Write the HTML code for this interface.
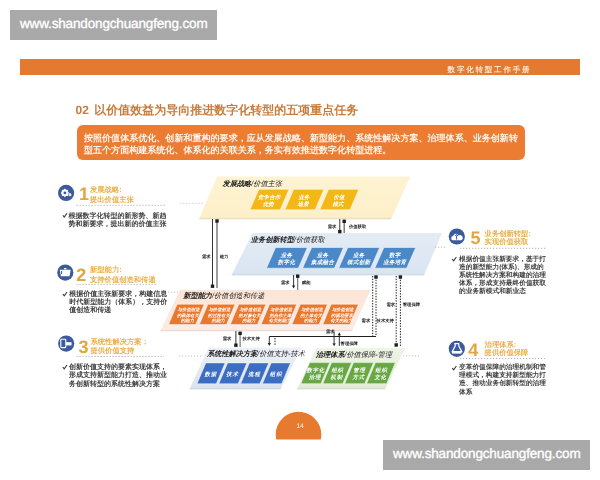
<!DOCTYPE html>
<html><head><meta charset="utf-8">
<style>
html,body{margin:0;padding:0;background:#fff;}
body{width:600px;height:480px;overflow:hidden;position:relative;font-family:"Liberation Sans",sans-serif;text-rendering:geometricPrecision;}
.a{position:absolute;white-space:nowrap;}
.wm{position:absolute;background:#a9a9a9;color:#fff;font-size:13.5px;letter-spacing:-0.15px;line-height:30px;height:30px;width:207px;}
.wm span{position:absolute;left:10px;top:-1.5px;-webkit-text-stroke:0.35px #fff;}
svg{position:absolute;left:0;top:0;}
</style></head>
<body>
<!-- top watermark -->
<div class="wm" style="left:10px;top:10px;"><span>www.shandongchuangfeng.com</span></div>

<div id="doc" style="position:absolute;left:0;top:0;width:600px;height:480px;filter:blur(0.3px);">
<!-- header bar -->
<div class="a" style="left:20px;top:59px;width:560px;height:16px;background:#e47a2f;"></div>
<div class="a" style="left:447.6px;top:62px;height:16px;line-height:16px;font-size:7.5px;font-weight:bold;color:#fbe6d6;letter-spacing:1.8px;">数字化转型工作手册</div>

<!-- title -->
<div class="a" style="left:75.5px;top:102px;font-size:12px;font-weight:bold;color:#c87b3b;line-height:16px;">02 <span style="margin-left:2px">以价值效益为导向推进数字化转型的五项重点任务</span></div>

<!-- orange intro box -->
<div class="a" style="left:77px;top:125px;width:448px;height:35px;background:#ec7c32;border-radius:6px;"></div>
<div class="a" style="left:84px;top:132.8px;font-size:9px;font-weight:bold;color:#fff4ea;line-height:11.8px;letter-spacing:0.04px;">按照价值体系优化、创新和重构的要求，应从发展战略、新型能力、系统性解决方案、治理体系、业务创新转<br>型五个方面构建系统化、体系化的关联关系，务实有效推进数字化转型进程。</div>

<svg width="600" height="480" viewBox="0 0 600 480" font-family="Liberation Sans, sans-serif" text-rendering="geometricPrecision">
<defs><linearGradient id="gy" x1="0" y1="0" x2="0" y2="1"><stop offset="0" stop-color="#fef3d2"/><stop offset="1" stop-color="#fdefc8"/></linearGradient><linearGradient id="gb" x1="0" y1="0" x2="0" y2="1"><stop offset="0" stop-color="#e4ebf4"/><stop offset="1" stop-color="#dae5f2"/></linearGradient><linearGradient id="go" x1="0" y1="0" x2="0" y2="1"><stop offset="0" stop-color="#fce4d5"/><stop offset="1" stop-color="#fdede6"/></linearGradient><linearGradient id="gs" x1="0" y1="0" x2="0" y2="1"><stop offset="0" stop-color="#edf0f6"/><stop offset="1" stop-color="#dce3ef"/></linearGradient><linearGradient id="gg" x1="0" y1="0" x2="0" y2="1"><stop offset="0" stop-color="#eef4e6"/><stop offset="1" stop-color="#e0ecd4"/></linearGradient></defs>
<polygon points="217.0,176.5 410.5,176.5 391.0,219.3 199.0,219.3" fill="url(#gy)" />
<polygon points="199.7,217.7 391.7,217.7 391.0,219.3 199.0,219.3" fill="#ece0c4" />
<polygon points="252.5,233.0 442.0,233.0 424.0,275.3 231.5,275.3" fill="url(#gb)" />
<polygon points="232.3,273.7 424.7,273.7 424.0,275.3 231.5,275.3" fill="#d2d9e4" />
<polygon points="180.0,290.0 370.5,290.0 352.0,331.3 160.0,331.3" fill="url(#go)" />
<polygon points="160.8,329.7 352.7,329.7 352.0,331.3 160.0,331.3" fill="#eadbd6" />
<polygon points="208.5,347.4 301.5,347.4 280.5,389.3 189.5,389.3" fill="url(#gs)" />
<polygon points="190.2,387.7 281.3,387.7 280.5,389.3 189.5,389.3" fill="#d3d9e4" />
<polygon points="316.0,348.0 405.5,348.0 385.0,389.3 297.0,389.3" fill="url(#gg)" />
<polygon points="297.7,387.7 385.8,387.7 385.0,389.3 297.0,389.3" fill="#d5dfca" />
<polygon points="258.8,189.3 289.0,189.3 280.2,209.8 250.0,209.8" fill="#f3b717" stroke="#ffffff" stroke-opacity="0.55" stroke-width="0.9"/>
<text x="269.2" y="197.9" font-size="5.4" fill="#fff" font-weight="bold" text-anchor="middle" dominant-baseline="central" font-style="italic" letter-spacing="0.2">竞争合作</text>
<text x="268.3" y="205.0" font-size="5.4" fill="#fff" font-weight="bold" text-anchor="middle" dominant-baseline="central" font-style="italic" letter-spacing="0.2">优势</text>
<polygon points="293.7,189.3 323.9,189.3 315.1,209.8 284.9,209.8" fill="#f3b717" stroke="#ffffff" stroke-opacity="0.55" stroke-width="0.9"/>
<text x="304.1" y="197.9" font-size="5.4" fill="#fff" font-weight="bold" text-anchor="middle" dominant-baseline="central" font-style="italic" letter-spacing="0.2">业务</text>
<text x="303.2" y="205.0" font-size="5.4" fill="#fff" font-weight="bold" text-anchor="middle" dominant-baseline="central" font-style="italic" letter-spacing="0.2">场景</text>
<polygon points="328.6,189.3 358.8,189.3 350.0,209.8 319.8,209.8" fill="#f3b717" stroke="#ffffff" stroke-opacity="0.55" stroke-width="0.9"/>
<text x="339.0" y="197.9" font-size="5.4" fill="#fff" font-weight="bold" text-anchor="middle" dominant-baseline="central" font-style="italic" letter-spacing="0.2">价值</text>
<text x="338.1" y="205.0" font-size="5.4" fill="#fff" font-weight="bold" text-anchor="middle" dominant-baseline="central" font-style="italic" letter-spacing="0.2">模式</text>
<polygon points="275.6,247.5 307.4,247.5 298.3,268.2 266.5,268.2" fill="#4b88c8" stroke="#ffffff" stroke-opacity="0.55" stroke-width="0.9"/>
<text x="286.5" y="255.7" font-size="5.5" fill="#fff" font-weight="bold" text-anchor="middle" dominant-baseline="central" font-style="italic" letter-spacing="0.3">业务</text>
<text x="286.5" y="262.8" font-size="5.5" fill="#fff" font-weight="bold" text-anchor="middle" dominant-baseline="central" font-style="italic" letter-spacing="0.3">数字化</text>
<polygon points="311.7,247.5 343.5,247.5 334.4,268.2 302.6,268.2" fill="#4b88c8" stroke="#ffffff" stroke-opacity="0.55" stroke-width="0.9"/>
<text x="322.6" y="255.7" font-size="5.5" fill="#fff" font-weight="bold" text-anchor="middle" dominant-baseline="central" font-style="italic" letter-spacing="0.3">业务</text>
<text x="322.6" y="262.8" font-size="5.5" fill="#fff" font-weight="bold" text-anchor="middle" dominant-baseline="central" font-style="italic" letter-spacing="0.3">集成融合</text>
<polygon points="347.8,247.5 379.6,247.5 370.5,268.2 338.7,268.2" fill="#4b88c8" stroke="#ffffff" stroke-opacity="0.55" stroke-width="0.9"/>
<text x="358.7" y="255.7" font-size="5.5" fill="#fff" font-weight="bold" text-anchor="middle" dominant-baseline="central" font-style="italic" letter-spacing="0.3">业务</text>
<text x="358.7" y="262.8" font-size="5.5" fill="#fff" font-weight="bold" text-anchor="middle" dominant-baseline="central" font-style="italic" letter-spacing="0.3">模式创新</text>
<polygon points="383.9,247.5 415.7,247.5 406.6,268.2 374.8,268.2" fill="#4b88c8" stroke="#ffffff" stroke-opacity="0.55" stroke-width="0.9"/>
<text x="394.8" y="255.7" font-size="5.5" fill="#fff" font-weight="bold" text-anchor="middle" dominant-baseline="central" font-style="italic" letter-spacing="0.3">数字</text>
<text x="394.8" y="262.8" font-size="5.5" fill="#fff" font-weight="bold" text-anchor="middle" dominant-baseline="central" font-style="italic" letter-spacing="0.3">业务培育</text>
<polygon points="177.1,304.2 204.2,304.2 195.7,324.5 168.6,324.5" fill="#e8782e" stroke="#ffffff" stroke-opacity="0.55" stroke-width="0.9"/>
<text x="188.6" y="309.8" font-size="4.4" fill="#fff" font-weight="bold" text-anchor="middle" dominant-baseline="central" font-style="italic" >与价值创造</text>
<text x="187.9" y="315.0" font-size="4.4" fill="#fff" font-weight="bold" text-anchor="middle" dominant-baseline="central" font-style="italic" >的载体有关</text>
<text x="187.3" y="320.2" font-size="4.4" fill="#fff" font-weight="bold" text-anchor="middle" dominant-baseline="central" font-style="italic" >的能力</text>
<polygon points="207.9,304.2 235.0,304.2 226.5,324.5 199.4,324.5" fill="#e8782e" stroke="#ffffff" stroke-opacity="0.55" stroke-width="0.9"/>
<text x="219.4" y="309.8" font-size="4.4" fill="#fff" font-weight="bold" text-anchor="middle" dominant-baseline="central" font-style="italic" >与价值创造</text>
<text x="218.8" y="315.0" font-size="4.4" fill="#fff" font-weight="bold" text-anchor="middle" dominant-baseline="central" font-style="italic" >的过程有关</text>
<text x="218.1" y="320.2" font-size="4.4" fill="#fff" font-weight="bold" text-anchor="middle" dominant-baseline="central" font-style="italic" >的能力</text>
<polygon points="238.8,304.2 265.9,304.2 257.4,324.5 230.3,324.5" fill="#e8782e" stroke="#ffffff" stroke-opacity="0.55" stroke-width="0.9"/>
<text x="250.2" y="309.8" font-size="4.4" fill="#fff" font-weight="bold" text-anchor="middle" dominant-baseline="central" font-style="italic" >与价值创造</text>
<text x="249.6" y="315.0" font-size="4.4" fill="#fff" font-weight="bold" text-anchor="middle" dominant-baseline="central" font-style="italic" >的对象有关</text>
<text x="248.9" y="320.2" font-size="4.4" fill="#fff" font-weight="bold" text-anchor="middle" dominant-baseline="central" font-style="italic" >的能力</text>
<polygon points="269.6,304.2 296.7,304.2 288.2,324.5 261.1,324.5" fill="#e8782e" stroke="#ffffff" stroke-opacity="0.55" stroke-width="0.9"/>
<text x="281.1" y="309.8" font-size="4.4" fill="#fff" font-weight="bold" text-anchor="middle" dominant-baseline="central" font-style="italic" >与价值创造</text>
<text x="280.4" y="315.0" font-size="4.4" fill="#fff" font-weight="bold" text-anchor="middle" dominant-baseline="central" font-style="italic" >的合作主体</text>
<text x="279.8" y="320.2" font-size="4.4" fill="#fff" font-weight="bold" text-anchor="middle" dominant-baseline="central" font-style="italic" >有关的能力</text>
<polygon points="300.4,304.2 327.5,304.2 319.0,324.5 291.9,324.5" fill="#e8782e" stroke="#ffffff" stroke-opacity="0.55" stroke-width="0.9"/>
<text x="311.9" y="309.8" font-size="4.4" fill="#fff" font-weight="bold" text-anchor="middle" dominant-baseline="central" font-style="italic" >与价值创造</text>
<text x="311.2" y="315.0" font-size="4.4" fill="#fff" font-weight="bold" text-anchor="middle" dominant-baseline="central" font-style="italic" >的主体有关</text>
<text x="310.6" y="320.2" font-size="4.4" fill="#fff" font-weight="bold" text-anchor="middle" dominant-baseline="central" font-style="italic" >的能力</text>
<polygon points="331.2,304.2 358.4,304.2 349.9,324.5 322.8,324.5" fill="#e8782e" stroke="#ffffff" stroke-opacity="0.55" stroke-width="0.9"/>
<text x="342.7" y="309.8" font-size="4.4" fill="#fff" font-weight="bold" text-anchor="middle" dominant-baseline="central" font-style="italic" >与价值创造</text>
<text x="342.1" y="315.0" font-size="4.4" fill="#fff" font-weight="bold" text-anchor="middle" dominant-baseline="central" font-style="italic" >的驱动要素</text>
<text x="341.4" y="320.2" font-size="4.4" fill="#fff" font-weight="bold" text-anchor="middle" dominant-baseline="central" font-style="italic" >有关的能力</text>
<polygon points="205.8,362.9 225.1,362.9 216.3,383.8 197.0,383.8" fill="#3b6dc2" stroke="#ffffff" stroke-opacity="0.55" stroke-width="0.9"/>
<text x="210.8" y="375.1" font-size="5.4" fill="#fff" font-weight="bold" text-anchor="middle" dominant-baseline="central" font-style="italic" letter-spacing="1.0">数据</text>
<polygon points="227.6,362.9 246.9,362.9 238.1,383.8 218.8,383.8" fill="#3b6dc2" stroke="#ffffff" stroke-opacity="0.55" stroke-width="0.9"/>
<text x="232.6" y="375.1" font-size="5.4" fill="#fff" font-weight="bold" text-anchor="middle" dominant-baseline="central" font-style="italic" letter-spacing="1.0">技术</text>
<polygon points="249.4,362.9 268.7,362.9 259.9,383.8 240.6,383.8" fill="#3b6dc2" stroke="#ffffff" stroke-opacity="0.55" stroke-width="0.9"/>
<text x="254.4" y="375.1" font-size="5.4" fill="#fff" font-weight="bold" text-anchor="middle" dominant-baseline="central" font-style="italic" letter-spacing="1.0">流程</text>
<polygon points="271.2,362.9 290.5,362.9 281.7,383.8 262.4,383.8" fill="#3b6dc2" stroke="#ffffff" stroke-opacity="0.55" stroke-width="0.9"/>
<text x="276.2" y="375.1" font-size="5.4" fill="#fff" font-weight="bold" text-anchor="middle" dominant-baseline="central" font-style="italic" letter-spacing="1.0">组织</text>
<polygon points="309.7,362.6 329.7,362.6 320.9,383.7 300.9,383.7" fill="#68a844" stroke="#ffffff" stroke-opacity="0.55" stroke-width="0.9"/>
<text x="315.7" y="370.8" font-size="5.4" fill="#fff" font-weight="bold" text-anchor="middle" dominant-baseline="central" font-style="italic" letter-spacing="0.8">数字化</text>
<text x="314.9" y="377.5" font-size="5.4" fill="#fff" font-weight="bold" text-anchor="middle" dominant-baseline="central" font-style="italic" letter-spacing="0.8">治理</text>
<polygon points="331.6,362.6 351.6,362.6 342.8,383.7 322.8,383.7" fill="#68a844" stroke="#ffffff" stroke-opacity="0.55" stroke-width="0.9"/>
<text x="337.6" y="370.8" font-size="5.4" fill="#fff" font-weight="bold" text-anchor="middle" dominant-baseline="central" font-style="italic" letter-spacing="0.8">组织</text>
<text x="336.8" y="377.5" font-size="5.4" fill="#fff" font-weight="bold" text-anchor="middle" dominant-baseline="central" font-style="italic" letter-spacing="0.8">机制</text>
<polygon points="353.5,362.6 373.5,362.6 364.7,383.7 344.7,383.7" fill="#68a844" stroke="#ffffff" stroke-opacity="0.55" stroke-width="0.9"/>
<text x="359.5" y="370.8" font-size="5.4" fill="#fff" font-weight="bold" text-anchor="middle" dominant-baseline="central" font-style="italic" letter-spacing="0.8">管理</text>
<text x="358.7" y="377.5" font-size="5.4" fill="#fff" font-weight="bold" text-anchor="middle" dominant-baseline="central" font-style="italic" letter-spacing="0.8">方式</text>
<polygon points="375.4,362.6 395.4,362.6 386.6,383.7 366.6,383.7" fill="#68a844" stroke="#ffffff" stroke-opacity="0.55" stroke-width="0.9"/>
<text x="381.4" y="370.8" font-size="5.4" fill="#fff" font-weight="bold" text-anchor="middle" dominant-baseline="central" font-style="italic" letter-spacing="0.8">组织</text>
<text x="380.6" y="377.5" font-size="5.4" fill="#fff" font-weight="bold" text-anchor="middle" dominant-baseline="central" font-style="italic" letter-spacing="0.8">文化</text>
<text x="222.5" y="183.0" font-size="7.2" fill="#1a1a1a" font-style="italic" dominant-baseline="central"><tspan font-weight="bold">发展战略</tspan><tspan fill="#1a1a1a" font-weight="normal">/价值主张</tspan></text>
<text x="250.8" y="238.7" font-size="7.2" fill="#1a1a1a" font-style="italic" dominant-baseline="central"><tspan font-weight="bold">业务创新转型</tspan><tspan fill="#1a1a1a" font-weight="normal">/价值获取</tspan></text>
<text x="183.3" y="295.0" font-size="7.2" fill="#1a1a1a" font-style="italic" dominant-baseline="central"><tspan font-weight="bold">新型能力</tspan><tspan fill="#1a1a1a" font-weight="normal">/价值创造和传递</tspan></text>
<text x="207.0" y="352.7" font-size="7.2" fill="#1a1a1a" font-style="italic" dominant-baseline="central"><tspan font-weight="bold">系统性解决方案</tspan><tspan fill="#1a1a1a" font-weight="normal">/价值支持-技术</tspan></text>
<text x="315.7" y="353.7" font-size="7.2" fill="#1a1a1a" font-style="italic" dominant-baseline="central"><tspan font-weight="bold">治理体系</tspan><tspan fill="#1a1a1a" font-weight="normal">/价值保障-管理</tspan></text>
<circle cx="66.1" cy="192.9" r="8.1" fill="#3c5a9c"/>
<polygon points="69.20,192.90 67.86,194.12 67.94,195.94 66.12,195.86 64.90,197.20 63.68,195.86 61.86,195.94 61.94,194.12 60.60,192.90 61.94,191.68 61.86,189.86 63.68,189.94 64.90,188.60 66.12,189.94 67.94,189.86 67.86,191.68" fill="#fff"/><circle cx="64.9" cy="192.9" r="3.3" fill="#fff"/><circle cx="64.9" cy="192.9" r="1.4" fill="#3c5a9c"/><circle cx="69.9" cy="194.7" r="1.6" fill="#fff" opacity="0.85"/>
<text x="79.0" y="199.5" font-size="18" font-weight="bold" fill="#e3a53c">1</text>
<text x="90.0" y="189.5" font-size="7.3" fill="#eab04a" font-weight="bold" text-anchor="start" dominant-baseline="central"  >发展战略:</text>
<text x="90.0" y="199.0" font-size="7.3" fill="#eab04a" font-weight="bold" text-anchor="start" dominant-baseline="central"  >提出价值主张</text>
<line x1="76.5" y1="205.3" x2="165.0" y2="205.3" stroke="#9a9a9a" stroke-width="0.8" stroke-dasharray="1.2 1.8"/>
<path d="M62.8 215.3 l1.4 1.8 l2.8 -3.8" stroke="#333" stroke-width="1.05" fill="none"/>
<text x="68.5" y="216.4" font-size="7" fill="#404040" font-weight="bold" text-anchor="start" dominant-baseline="central"  >根据数字化转型的新形势、新趋</text>
<text x="68.5" y="224.5" font-size="7" fill="#404040" font-weight="bold" text-anchor="start" dominant-baseline="central"  >势和新要求，提出新的价值主张</text>
<circle cx="65.3" cy="272.6" r="8.1" fill="#3c5a9c"/>
<path d="M59.7 269.8 h11 l-1.2 6.4 h-8.6 z" fill="#fff"/><rect x="64.1" y="268.0" width="2.4" height="1.3" fill="#fff"/><rect x="61.1" y="271.0" width="1" height="3" fill="#3c5a9c"/>
<text x="76.3" y="281.0" font-size="18" font-weight="bold" fill="#e3a53c">2</text>
<text x="90.0" y="269.0" font-size="7.3" fill="#eab04a" font-weight="bold" text-anchor="start" dominant-baseline="central"  >新型能力:</text>
<text x="90.0" y="279.0" font-size="7.3" fill="#eab04a" font-weight="bold" text-anchor="start" dominant-baseline="central"  >支持价值创造和传递</text>
<line x1="76.5" y1="284.4" x2="157.0" y2="284.4" stroke="#9a9a9a" stroke-width="0.8" stroke-dasharray="1.2 1.8"/>
<path d="M62.8 294.0 l1.4 1.8 l2.8 -3.8" stroke="#333" stroke-width="1.05" fill="none"/>
<text x="69.3" y="294.4" font-size="7" fill="#404040" font-weight="bold" text-anchor="start" dominant-baseline="central"  >根据价值主张新要求，构建信息</text>
<text x="69.3" y="302.6" font-size="7" fill="#404040" font-weight="bold" text-anchor="start" dominant-baseline="central"  >时代新型能力（体系），支持价</text>
<text x="69.3" y="310.8" font-size="7" fill="#404040" font-weight="bold" text-anchor="start" dominant-baseline="central"  >值创造和传递</text>
<circle cx="66.2" cy="343.6" r="8.1" fill="#3c5a9c"/>
<rect x="60.8" y="339.2" width="5" height="8.4" rx="0.8" fill="none" stroke="#fff" stroke-width="1.1"/><rect x="66.0" y="342.2" width="5.5" height="3.2" fill="#fff"/>
<text x="78.5" y="353.3" font-size="18" font-weight="bold" fill="#e3a53c">3</text>
<text x="90.5" y="341.3" font-size="7.3" fill="#eab04a" font-weight="bold" text-anchor="start" dominant-baseline="central"  >系统性解决方案：</text>
<text x="90.5" y="350.0" font-size="7.3" fill="#eab04a" font-weight="bold" text-anchor="start" dominant-baseline="central"  >提供价值支持</text>
<line x1="76.5" y1="356.5" x2="164.0" y2="356.5" stroke="#9a9a9a" stroke-width="0.8" stroke-dasharray="1.2 1.8"/>
<path d="M62.8 367.0 l1.4 1.8 l2.8 -3.8" stroke="#333" stroke-width="1.05" fill="none"/>
<text x="69.0" y="367.4" font-size="7" fill="#404040" font-weight="bold" text-anchor="start" dominant-baseline="central"  >创新价值支持的要素实现体系，</text>
<text x="69.0" y="375.7" font-size="7" fill="#404040" font-weight="bold" text-anchor="start" dominant-baseline="central"  >形成支持新型能力打造、推动业</text>
<text x="69.0" y="384.0" font-size="7" fill="#404040" font-weight="bold" text-anchor="start" dominant-baseline="central"  >务创新转型的系统性解决方案</text>
<circle cx="456.8" cy="236.5" r="8.1" fill="#3c5a9c"/>
<path d="M452.5 240.3 a2.2 2.2 0 0 1 0.6 -4.2 a3 3 0 0 1 5.6 -0.6 a2.4 2.4 0 0 1 2.6 4.8 z" fill="#fff"/><path d="M456.6 239.5 v-4 M455.2 236.0 l1.4 -1.6 l1.4 1.6" stroke="#3c5a9c" stroke-width="1" fill="none"/>
<text x="470.6" y="244.0" font-size="18" font-weight="bold" fill="#e3a53c">5</text>
<text x="484.6" y="233.0" font-size="7.3" fill="#eab04a" font-weight="bold" text-anchor="start" dominant-baseline="central"  >业务创新转型:</text>
<text x="484.6" y="241.0" font-size="7.3" fill="#eab04a" font-weight="bold" text-anchor="start" dominant-baseline="central"  >实现价值获取</text>
<line x1="460.0" y1="248.3" x2="547.0" y2="248.3" stroke="#9a9a9a" stroke-width="0.8" stroke-dasharray="1.2 1.8"/>
<path d="M452.2 259.0 l1.4 1.8 l2.8 -3.8" stroke="#333" stroke-width="1.05" fill="none"/>
<text x="459.0" y="259.0" font-size="6.7" fill="#404040" font-weight="bold" text-anchor="start" dominant-baseline="central"  >根据价值主张新要求，基于打</text>
<text x="459.0" y="267.1" font-size="6.7" fill="#404040" font-weight="bold" text-anchor="start" dominant-baseline="central"  >造的新型能力(体系)、形成的</text>
<text x="459.0" y="275.1" font-size="6.7" fill="#404040" font-weight="bold" text-anchor="start" dominant-baseline="central"  >系统性解决方案和构建的治理</text>
<text x="459.0" y="283.1" font-size="6.7" fill="#404040" font-weight="bold" text-anchor="start" dominant-baseline="central"  >体系，形成支持最终价值获取</text>
<text x="459.0" y="291.2" font-size="6.7" fill="#404040" font-weight="bold" text-anchor="start" dominant-baseline="central"  >的业务新模式和新业态</text>
<circle cx="456.8" cy="348.8" r="8.1" fill="#3c5a9c"/>
<path d="M454.3 343.6 h5 M455.2 344.0 v2 l-3 5.6 h9.6 l-3 -5.6 v-2" stroke="#fff" stroke-width="1.2" fill="none"/><path d="M452.1 353.6 h9.4 v-2.2 h-9.4 z" fill="#fff"/>
<text x="468.2" y="356.3" font-size="18" font-weight="bold" fill="#e3a53c">4</text>
<text x="484.6" y="344.5" font-size="7.3" fill="#eab04a" font-weight="bold" text-anchor="start" dominant-baseline="central"  >治理体系:</text>
<text x="484.6" y="352.5" font-size="7.3" fill="#eab04a" font-weight="bold" text-anchor="start" dominant-baseline="central"  >提供价值保障</text>
<line x1="460.0" y1="358.6" x2="547.0" y2="358.6" stroke="#9a9a9a" stroke-width="0.8" stroke-dasharray="1.2 1.8"/>
<path d="M452.2 368.0 l1.4 1.8 l2.8 -3.8" stroke="#333" stroke-width="1.05" fill="none"/>
<text x="459.0" y="367.6" font-size="6.7" fill="#404040" font-weight="bold" text-anchor="start" dominant-baseline="central"  >变革价值保障的治理机制和管</text>
<text x="459.0" y="375.8" font-size="6.7" fill="#404040" font-weight="bold" text-anchor="start" dominant-baseline="central"  >理模式，构建支持新型能力打</text>
<text x="459.0" y="383.9" font-size="6.7" fill="#404040" font-weight="bold" text-anchor="start" dominant-baseline="central"  >造、推动业务创新转型的治理</text>
<text x="459.0" y="392.1" font-size="6.7" fill="#404040" font-weight="bold" text-anchor="start" dominant-baseline="central"  >体系</text>
<line x1="212.5" y1="219.0" x2="212.5" y2="286.0" stroke="#1e1e1e" stroke-width="0.9" />
<rect x="210.8" y="284.5" width="3.4" height="3.4" fill="#1e1e1e"/>
<line x1="217.0" y1="221.0" x2="217.0" y2="288.0" stroke="#6a6a6a" stroke-width="1.3" />
<rect x="215.3" y="219.3" width="3.4" height="3.4" fill="#1e1e1e"/>
<text x="202.0" y="256.0" font-size="4.3" fill="#1a1a1a" font-weight="bold" text-anchor="start" dominant-baseline="central"  >需求</text>
<text x="219.7" y="256.0" font-size="4.3" fill="#1a1a1a" font-weight="bold" text-anchor="start" dominant-baseline="central"  >能力</text>
<line x1="339.8" y1="219.0" x2="339.8" y2="231.5" stroke="#1e1e1e" stroke-width="0.9" />
<rect x="338.1" y="229.9" width="3.4" height="3.4" fill="#1e1e1e"/>
<line x1="344.2" y1="221.0" x2="344.2" y2="233.0" stroke="#6a6a6a" stroke-width="1.3" />
<rect x="342.5" y="219.6" width="3.4" height="3.4" fill="#1e1e1e"/>
<text x="327.8" y="226.0" font-size="4.3" fill="#1a1a1a" font-weight="bold" text-anchor="start" dominant-baseline="central"  >需求</text>
<text x="349.0" y="226.0" font-size="4.3" fill="#1a1a1a" font-weight="bold" text-anchor="start" dominant-baseline="central"  >价值获取</text>
<line x1="293.6" y1="275.0" x2="293.6" y2="286.0" stroke="#1e1e1e" stroke-width="0.9" />
<path d="M293.6 288.6 l-1.6 -3 h3.2 z" fill="#1e1e1e"/>
<line x1="297.7" y1="276.0" x2="297.7" y2="290.0" stroke="#6a6a6a" stroke-width="1.1" />
<rect x="296.0" y="274.5" width="3.4" height="3.4" fill="#1e1e1e"/>
<text x="281.0" y="282.0" font-size="4.3" fill="#1a1a1a" font-weight="bold" text-anchor="start" dominant-baseline="central"  >需求</text>
<text x="302.0" y="282.0" font-size="4.3" fill="#1a1a1a" font-weight="bold" text-anchor="start" dominant-baseline="central"  >赋能</text>
<line x1="372.7" y1="276.0" x2="372.7" y2="336.5" stroke="#1e1e1e" stroke-width="1.0" stroke-dasharray="1.4 1.3"/>
<line x1="376.0" y1="277.0" x2="376.0" y2="336.5" stroke="#1e1e1e" stroke-width="1.0" stroke-dasharray="1.4 1.3"/>
<rect x="374.3" y="275.3" width="3.4" height="3.4" fill="#1e1e1e"/>
<line x1="396.2" y1="276.0" x2="396.2" y2="344.0" stroke="#1e1e1e" stroke-width="1.0" stroke-dasharray="1.4 1.3"/>
<line x1="400.4" y1="277.0" x2="400.4" y2="347.0" stroke="#1e1e1e" stroke-width="1.0" stroke-dasharray="1.4 1.3"/>
<rect x="398.7" y="275.3" width="3.4" height="3.4" fill="#1e1e1e"/>
<rect x="394.5" y="343.3" width="3.4" height="3.4" fill="#1e1e1e"/>
<text x="361.6" y="320.0" font-size="4.3" fill="#1a1a1a" font-weight="bold" text-anchor="start" dominant-baseline="central"  >需求</text>
<text x="376.6" y="320.0" font-size="4.3" fill="#1a1a1a" font-weight="bold" text-anchor="start" dominant-baseline="central"  >技术支持</text>
<text x="386.4" y="304.0" font-size="4.3" fill="#1a1a1a" font-weight="bold" text-anchor="start" dominant-baseline="central"  >需求</text>
<text x="402.8" y="304.0" font-size="4.3" fill="#1a1a1a" font-weight="bold" text-anchor="start" dominant-baseline="central"  >管理保障</text>
<line x1="235.9" y1="331.0" x2="235.9" y2="344.0" stroke="#1e1e1e" stroke-width="0.9" />
<rect x="234.2" y="343.5" width="3.4" height="3.4" fill="#1e1e1e"/>
<line x1="240.1" y1="333.0" x2="240.1" y2="347.0" stroke="#6a6a6a" stroke-width="1.1" />
<rect x="238.4" y="331.6" width="3.4" height="3.4" fill="#1e1e1e"/>
<text x="222.8" y="338.7" font-size="4.3" fill="#1a1a1a" font-weight="bold" text-anchor="start" dominant-baseline="central"  >需求</text>
<text x="242.5" y="338.7" font-size="4.3" fill="#1a1a1a" font-weight="bold" text-anchor="start" dominant-baseline="central"  >技术支持</text>
<line x1="269.3" y1="336.5" x2="376.0" y2="336.5" stroke="#1e1e1e" stroke-width="1" />
<line x1="269.3" y1="336.5" x2="269.3" y2="343.0" stroke="#1e1e1e" stroke-width="0.9" />
<path d="M269.3 346.0 l-1.6 -3 h3.2 z" fill="#1e1e1e"/>
<line x1="275.0" y1="338.0" x2="275.0" y2="346.0" stroke="#1e1e1e" stroke-width="1.0" stroke-dasharray="1.4 1.3"/>
<line x1="334.1" y1="331.5" x2="334.1" y2="343.0" stroke="#1e1e1e" stroke-width="0.9" />
<path d="M334.1 346.2 l-1.6 -3 h3.2 z" fill="#1e1e1e"/>
<text x="326.0" y="331.8" font-size="4.3" fill="#1a1a1a" font-weight="bold" text-anchor="start" dominant-baseline="central"  >需求</text>
<line x1="339.3" y1="335.0" x2="339.3" y2="346.0" stroke="#1e1e1e" stroke-width="0.9" />
<path d="M339.3 332.3 l-1.6 3 h3.2 z" fill="#1e1e1e"/>
<text x="340.6" y="343.4" font-size="4.3" fill="#1a1a1a" font-weight="bold" text-anchor="start" dominant-baseline="central"  >管理保障</text>
<line x1="180.3" y1="203.3" x2="204.0" y2="203.3" stroke="#a8a8a8" stroke-width="0.7" stroke-dasharray="1.2 1.8"/>
<line x1="168.0" y1="292.2" x2="180.0" y2="292.2" stroke="#a8a8a8" stroke-width="0.7" stroke-dasharray="1.2 1.8"/>
<line x1="179.0" y1="356.1" x2="203.0" y2="356.1" stroke="#a8a8a8" stroke-width="0.7" stroke-dasharray="1.2 1.8"/>
<line x1="435.0" y1="247.2" x2="446.0" y2="247.2" stroke="#a8a8a8" stroke-width="0.7" stroke-dasharray="1.2 1.8"/>
<line x1="403.0" y1="355.8" x2="420.0" y2="355.8" stroke="#a8a8a8" stroke-width="0.7" stroke-dasharray="1.2 1.8"/>
<clipPath id="pc"><rect x="260" y="400" width="80" height="39.5"/></clipPath>
<circle cx="298.5" cy="434.5" r="22.8" fill="#e67a2f" clip-path="url(#pc)"/>
<text x="300.0" y="426.3" font-size="6.5" fill="#fbd9c0" font-weight="bold" text-anchor="middle" dominant-baseline="central"  >14</text>
</svg>
</div>

<!-- bottom watermark -->
<div class="wm" style="left:383px;top:440px;"><span>www.shandongchuangfeng.com</span></div>
</body></html>
